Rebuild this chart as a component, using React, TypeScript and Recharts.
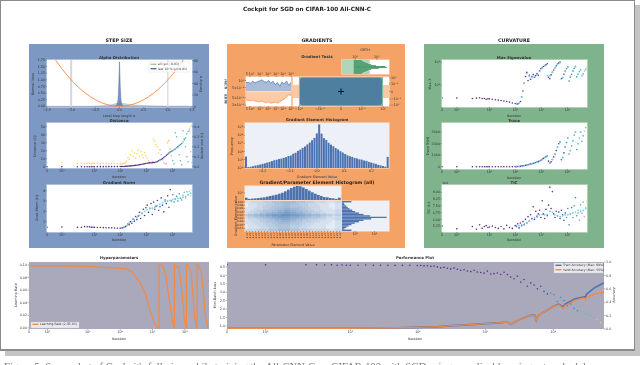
import React from 'react';
import { ComposedChart, Line, Area, Bar, Scatter, XAxis, YAxis, ReferenceLine, ReferenceArea } from 'recharts';

// iteration log shared by the scatter panels
const iterations = [0, 1, 3, 4, 5, 6, 7, 8, 9, 10,
  13, 17, 22, 28, 36, 46, 59, 76, 98,
  110, 123, 138, 155, 173, 194, 217, 243, 273, 305, 342, 383, 429, 481, 538, 603, 675, 756, 847, 949,
  1063, 1190, 1333, 1493, 1672, 1873, 2098, 2349, 2631, 2947, 3301, 3697, 4141, 4638, 5194, 5817, 6515, 7297, 8173, 9154,
  10252, 11482, 12860, 14403, 16132, 18068, 20236, 22664, 25384, 28430, 31842, 35663, 39942, 44735, 50103, 56115];

const distance = [0, 0, 0, 0, 0, 0, 0, 0, 0, 0,
  0.05, 0.05, 0.05, 0.1, 0.1, 0.1, 0.15, 0.15, 0.2,
  0.25, 0.3, 0.35, 0.5, 0.6, 0.7, 0.85, 1, 1.15, 1.3, 1.5, 1.7, 1.9, 2.1, 2.4, 2.7, 3, 3.3, 3.7, 4.1,
  4.4, 4.6, 4.8, 5, 5.1, 5.2, 5.3, 5.9, 6.6, 7.4, 8.3, 9.2, 10.2, 11.4, 12.8, 14.2, 15.6, 17, 18.4, 19.4,
  20, 21.2, 22.2, 23.6, 25, 26.4, 27.6, 29, 31, 33.5, 36, 41, 44, 47, 50, 52];

const updateSize = [0.04, 0.043, 0.03, 0.035, 0.03, 0.034, 0.033, 0.03, 0.036, 0.032,
  0.033, 0.03, 0.034, 0.031, 0.03, 0.032, 0.03, 0.029, 0.031,
  0.03, 0.032, 0.035, 0.04, 0.055, 0.09, 0.075, 0.12, 0.16, 0.1, 0.14, 0.085, 0.13, 0.165, 0.105, 0.15, 0.12, 0.09, 0.14, 0.11,
  0.09, 0.06, 0.045, 0.04, 0.05, 0.27, 0.25, 0.22, 0.2, 0.14, 0.17, 0.12, 0.07, 0.04, 0.03, 0.03, 0.24, 0.26, 0.18, 0.11,
  0.06, 0.03, 0.34, 0.3, 0.2, 0.12, 0.06, 0.02, 0.36, 0.28, 0.2, 0.1, 0.05, 0.36, 0.15, 0.04];

const gradNorm = [0.45, 0.48, 0.45, 0.46, 0.52, 0.5, 0.5, 0.47, 0.46, 0.45,
  0.44, 0.43, 0.42, 0.41, 0.4, 0.4, 0.38, 0.36, 0.36,
  0.37, 0.4, 0.46, 0.52, 0.6, 0.78, 0.7, 1.0, 0.85, 1.25, 1.05, 1.5, 1.2, 1.55, 1.9, 1.3, 1.8, 2.2, 1.6, 2.35,
  2.6, 1.9, 2.3, 2.75, 1.7, 2.9, 2.2, 2.5, 3.05, 2.1, 2.45, 3.3, 2.6, 1.95, 3.1, 2.75, 3.5, 2.4, 4.1, 3.0,
  3.6, 2.9, 3.2, 3.45, 3.0, 3.7, 3.25, 3.1, 3.55, 3.85, 3.3, 3.9, 3.6, 3.95, 3.5, 4.05];

const maxEig = [0.27, 0.27, 0.26, 0.27, 0.28, 0.26, 0.26, 0.24, 0.25, 0.25,
  0.24, 0.23, 0.22, 0.21, 0.2, 0.19, 0.18, 0.165, 0.155,
  0.155, 0.15, 0.16, 0.19, 0.3, 0.55, 1.2, 2.4, 3.6, 1.6, 2.7, 1.8, 2.4, 2.9, 2.2, 2.6, 3.2, 2.7, 4.2, 5.2,
  5.8, 6.5, 7.2, 7.8, 8.6, 2.2, 1.9, 2.8, 3.6, 4.6, 5.8, 7, 8.6, 9.4, 10.2, 1.9, 2.1, 3, 4, 5.2,
  6.4, 1.5, 2.2, 3, 4.2, 5.4, 6.6, 2.3, 3, 3.9, 4.8, 2.6, 3.2, 4.2, 5, 6];

const trace = [0, 0, 0, 0, 0, 0, 0, 0, 0, 0,
  0, 0, 0, 0, 0, 0, 0, 0, 5,
  10, 15, 20, 30, 50, 70, 95, 120, 150, 175, 200, 230, 260, 290, 320, 360, 400, 440, 500, 560,
  640, 720, 800, 860, 920, 480, 330, 420, 620, 850, 1100, 1400, 1700, 2000, 2150, 600, 800, 1200, 1700, 2100,
  2500, 1100, 1400, 1800, 2250, 2750, 3000, 1500, 2000, 2500, 3000, 2200, 2700, 3100, 3400, 3650];

const tic = [5.25, 4.95, 5.2, 4.9, 5.4, 5.0, 5.2, 5.3, 5.1, 5.15,
  5.25, 5.1, 5.0, 5.2, 4.95, 5.35, 5.1, 5.0, 5.3,
  5.2, 5.5, 5.05, 5.6, 5.3, 5.75, 5.4, 6.0, 5.6, 6.3, 5.8, 6.5, 6.1, 7.4, 6.0, 6.9, 6.3, 6.6, 7.0, 6.2,
  8.06, 6.6, 6.1, 7.1, 6.4, 7.57, 9.56, 7.2, 9.07, 6.6, 6.2, 6.9, 6.4, 6.8, 6.1, 7.0, 6.5, 5.9, 6.7, 6.2,
  7.2, 5.4, 6.6, 7.3, 6.2, 7.5, 8.4, 6.4, 7.0, 5.9, 7.6, 6.7, 7.9, 6.3, 7.3, 8.0];

const loss = [4.62, 4.62, 4.62, 4.62, 4.61, 4.62, 4.6, 4.61, 4.6, 4.6,
  4.6, 4.61, 4.6, 4.6, 4.6, 4.59, 4.59, 4.6, 4.58,
  4.58, 4.56, 4.57, 4.53, 4.55, 4.5, 4.44, 4.47, 4.42, 4.38, 4.44, 4.36, 4.3, 4.33, 4.26, 4.22, 4.3, 4.2, 4.17, 4.13,
  4.25, 4.08, 4.1, 4.14, 4.05, 4.18, 4.05, 3.9, 3.8, 3.95, 3.6, 3.75, 3.35, 3.55, 3.42, 3.2, 3.35, 3.05, 2.9, 2.95,
  2.85, 2.45, 2.7, 2.5, 2.2, 2.3, 2.05, 1.9, 1.85, 1.75, 1.7, 1.6, 1.5, 1.4, 1.2, 1.05];

// smoothed curves, logged at every second iteration from 110 on
const trendIters = [110, 138, 173, 217, 273, 342, 429, 538, 675, 847, 1063, 1333, 1672, 2098, 2631, 3301, 4141, 5194, 6515, 8173,
  10252, 12860, 16132, 20236, 25384, 31842, 39942, 50103];
const gradNormTrend = [0.37, 0.48, 0.62, 0.85, 1.0, 1.2, 1.4, 1.6, 1.8, 2.0, 2.15, 2.25, 2.3, 2.4, 2.55, 2.7, 2.85, 2.95, 3.0, 3.05, 3.15, 3.2, 3.25, 3.3, 3.35, 3.45, 3.6, 3.75];
const maxEigTrend = [0.155, 0.16, 0.3, 1.2, 3.2, 2.4, 2.2, 2.4, 2.9, 4, 5.6, 7, 2.6, 2.6, 3.7, 5.8, 8.2, 9.6, 2.2, 4, 6.2, 2.4, 4.2, 6.4, 3, 4.6, 3.1, 4.9];
const traceTrend = [10, 20, 50, 95, 150, 200, 260, 320, 400, 500, 640, 800, 920, 330, 620, 1100, 1700, 2150, 800, 1700, 2500, 1400, 2250, 3000, 2000, 3000, 2700, 3400];
const ticTrend = [5.3, 5.3, 5.4, 5.5, 5.6, 5.8, 6.0, 6.2, 6.4, 6.5, 6.55, 6.5, 6.55, 6.9, 6.8, 6.5, 6.4, 6.3, 6.4, 6.5, 6.5, 6.6, 6.7, 6.8, 6.7, 6.9, 7.0, 7.2];

const perfIters = [0, 1, 10, 50, 100, 200, 330, 600, 1000, 1700, 2090, 2350, 3160, 4500, 5300, 5600, 5800, 6200, 10000, 12000, 14000, 15000, 21000, 26000, 28800, 29800, 31000, 40000, 56000];
const validAcc = [0.01, 0.01, 0.012, 0.018, 0.024, 0.035, 0.05, 0.065, 0.08, 0.095, 0.105, 0.075, 0.14, 0.2, 0.21, 0.13, 0.18, 0.21, 0.335, 0.36, 0.31, 0.35, 0.43, 0.455, 0.46, 0.43, 0.47, 0.52, 0.55];
const trainAcc = [0.01, 0.01, 0.012, 0.018, 0.024, 0.035, 0.05, 0.065, 0.08, 0.095, 0.105, 0.075, 0.14, 0.2, 0.21, 0.13, 0.18, 0.21, 0.335, 0.37, 0.33, 0.37, 0.45, 0.47, 0.48, 0.47, 0.52, 0.61, 0.69];

const lrIters = [0, 1, 10, 100, 160, 240, 380, 620, 870, 1260, 1590, 1600, 1700, 2090, 2540, 3000, 3630, 4300, 4800, 4810, 5200, 6600, 8300, 9600, 10500, 11200, 11210, 12600, 16000, 18500, 20400, 23000, 24000, 24010, 25700, 32400, 38000, 43000, 51000, 56115];
const learningRate = [0.0985, 0.0983, 0.0975, 0.0945, 0.0935, 0.088, 0.0745, 0.053, 0.0255, 0.003, 0, 0.1, 0.1, 0.099, 0.085, 0.06, 0.031, 0.006, 0, 0.1, 0.099, 0.096, 0.053, 0.015, 0.002, 0, 0.1, 0.1, 0.085, 0.04, 0.015, 0.001, 0, 0.1, 0.1, 0.09, 0.055, 0.02, 0.001, 0.001];

// alpha distribution
const alphaGrid = [-1.5, -1.33, -1.2, -1.1, -1, -0.9, -0.8, -0.7, -0.6, -0.5, -0.4, -0.3, -0.2, -0.1, -0.05, -0.03, -0.015, 0, 0.015, 0.03, 0.05, 0.1, 0.2, 0.3, 0.4, 0.5, 0.6, 0.7, 0.8, 0.9, 1, 1.1, 1.2, 1.33, 1.5];
const normLoss = [null, 1.77, 1.44, 1.21, 1, 0.81, 0.64, 0.49, 0.36, 0.25, 0.16, 0.09, 0.04, 0.01, 0.0025, 0.001, 0, 0, 0, 0.001, 0.0025, 0.01, 0.04, 0.09, 0.16, 0.25, 0.36, 0.49, 0.64, 0.81, 1, 1.21, 1.44, 1.77, null];
const densityAll = [0, 0, 0, 0, 0, 0, 0, 0, 0, 0.5, 1, 1.5, 2.5, 4.5, 5, 5.5, 5.8, 6, 5.8, 5.5, 5.2, 5, 3.5, 2.5, 2, 1.5, 1.2, 1, 0.8, 0.6, 0.5, 0.4, 0.3, 0.2, 0];
const densityLast = [0, 0, 0, 0, 0, 0, 0, 0, 0, 0, 0, 0, 0, 0.5, 3, 12, 35, 78, 35, 12, 3, 0.5, 0, 0, 0, 0, 0, 0, 0, 0, 0, 0, 0, 0, 0];

// gradient element histogram, 61 bins
const gradHist = [24, 1.2, 1.3, 1.5, 1.8, 2, 2.4, 2.9, 3.4, 4.2, 5.1, 6.4, 8.1, 9.3, 11.2, 13, 16, 19.5, 27, 31, 52, 68, 115, 165, 270, 410, 720, 1250, 2400, 4600, 16500,
  210000, 15500, 4400, 2550, 1150, 680, 430, 255, 175, 105, 72, 48, 33, 25, 21, 15.5, 13.5, 10.5, 9.8, 7.6, 6.8, 5, 4.3, 3.4, 2.9, 2.2, 1.9, 1.6, 1.3, 21];

// joint histogram
const paramHist = [10, 3, 4, 5, 7, 10, 14, 28, 55, 95, 190, 500, 1300, 5200, 28000, 145000, 500000, 1000000, 760000, 250000, 55000, 10500, 2000, 500, 145, 55, 18, 14, 7, 5, 3, 10];
const elemHist = [41, 7, 8, 12, 17, 26, 50, 100, 245, 740, 3600, 186000, 4600, 740, 245, 90, 41, 20, 12, 7.5, 41];
const jointRows = [
  '11222233344455555444333222211122',
  '01112223334445544433322211110011',
  '01112233344455544443322221110011',
  '11122233445556655544332221111011',
  '11223344455667766554433222111122',
  '12233445566778877665443332211122',
  '34455667788899988877665554433233',
  '23344556677888877766554443322122',
  '12223344556677766554433322211122',
  '11222334445566655443332221111011',
  '11122233344555544433222111110011',
  '01112223334444433332221111100011',
  '01111222333444433322211111100011',
  '22223333444555544433332222221122',
];
const paramLabels = ['-0.31', '-0.29', '-0.27', '-0.25', '-0.23', '-0.21', '-0.19', '-0.17', '-0.15', '-0.13', '-0.11', '-0.09', '-0.07', '-0.05', '-0.03', '-0.01',
  '0.01', '0.03', '0.05', '0.07', '0.09', '0.11', '0.13', '0.15', '0.17', '0.19', '0.21', '0.23', '0.25', '0.27', '0.29', '0.31'];

// gradient tests
const orthoHist = [42, 45, 50, 55, 62, 72, 92, 95, 78, 62, 55, 50, 45, 42];
const orthoLead = 25;
const normTrack = [0.62, 0.6, 0.55, 0.7, 0.58, 0.66, 0.72, 0.8, 0.68, 0.62, 0.75, 0.55, 0.7, 0.45, 0.6, 0.35, 0.65, 0.5, 0.72, 0.4, 0.62];
const innerTrack = [0.45, 0.4, 0.38, 0.42, 0.35, 0.32, 0.3, 0.36, 0.28, 0.25, 0.3, 0.2, 0.24, 0.28, 0.2, 0.3, 0.4, 0.5, 0.65, 0.8, 0.75];

const iterTicks = [0, 1, 10, 100, 1000, 10000];
const iterLabels = ['0', '10⁰', '10¹', '10²', '10³', '10⁴'];
const testLabels = ['5·10⁰', '10¹', '10²', '10³', '10⁴', '10⁵'];

const PURPLE = '#5B2C8A';
const CYAN = '#6FD0E8';
const BLUE = '#4C72B0';
const ORANGE = '#F08A45';
const GRAY_BG = '#A9A9BB';
const FONT = '"DejaVu Sans"';
// an axis of size 0 is not drawn at all, so give it next to nothing
const THIN = 0.01;

// axis position of an iteration: linear below 1, then one unit per decade (first decade stretched)
function pos(iter: number) {
  if (iter <= 1) return 0.57 * iter;
  if (iter <= 10) return 0.57 + 1.25 * Math.log10(iter);
  return 0.82 + Math.log10(iter);
}
const X_MAX = pos(56115);

const rows = iterations.map((iter, i) => {
  const t = trendIters.indexOf(iter);
  return {
    x: pos(iter), iter,
    distance: distance[i], updateSize: updateSize[i], gradNorm: gradNorm[i],
    maxEig: maxEig[i], trace: trace[i], tic: tic[i], loss: loss[i],
    gradNormTrend: t >= 0 ? gradNormTrend[t] : null,
    maxEigTrend: t >= 0 ? maxEigTrend[t] : null,
    traceTrend: t >= 0 ? traceTrend[t] : null,
    ticTrend: t >= 0 ? ticTrend[t] : null,
  };
});
const perfRows = [
  ...rows.map((r) => ({ x: r.x, iter: r.iter, loss: r.loss })),
  ...perfIters.map((iter, i) => ({ x: pos(iter), iter, validAcc: validAcc[i], trainAcc: trainAcc[i] })),
].sort((a, b) => a.x - b.x);
const lrRows = lrIters.map((iter, i) => ({ x: pos(iter), lr: learningRate[i] }));
const alphaRows = alphaGrid.map((x, i) => ({ x, normLoss: normLoss[i], all: densityAll[i], last: densityLast[i] }));
const gradHistRows = gradHist.map((count, i) => ({ x: (i - 30) * 0.00866, count }));
const paramRows = paramHist.map((count, i) => ({ x: i + 0.5, count }));
const elemRows = elemHist.map((count, i) => ({ row: i, count }));
const jointCells = jointRows.flatMap((row, r) =>
  row.split('').map((d, c) => ({ x: c + 0.5, y: 13.5 - r, level: Number(d) })));
const orthoRows = orthoHist.map((v, i) => ({ row: i, lead: orthoLead, rest: v - orthoLead }));
const normRows = normTrack.map((v, i) => ({ x: i * 2.25, v }));
const innerRows = innerTrack.map((v, i) => ({ x: i * 2.25, v }));

function iterColor(iter: number) {
  if (iter < 2500) return PURPLE;
  if (iter < 9000) return '#3B4C9B';
  if (iter < 25000) return '#3E8FB0';
  if (iter < 40000) return '#5DC4A8';
  if (iter < 50000) return '#E3A6E0';
  return '#E8D84A';
}
function updateColor(iter: number) {
  if (iter < 3000) return '#F5D94A';
  if (iter < 6000) return '#EBA3E0';
  if (iter < 10000) return '#F4B54A';
  if (iter < 44000) return '#62BF96';
  return '#EBA3E0';
}

const tickStyle = { fontSize: 3.3, fill: '#333', fontFamily: FONT };
const axisBase = {
  axisLine: false, tick: tickStyle, tickSize: 1.5, tickMargin: 0.5, interval: 0 as const,
  tickLine: { stroke: '#444', strokeWidth: 0.4 }, allowDataOverflow: true,
};

const dots = (colorOf: (iter: number) => string, r = 0.8) => (p: any) => {
  if (p.cy == null || p.value == null || (Array.isArray(p.value) && p.value[1] == null)) return <g key={p.index} />;
  return <circle key={p.index} cx={p.cx} cy={p.cy} r={r} fill={colorOf(p.payload.iter)} />;
};
const cyanDots = (p: any) => {
  if (p.cy == null || p.value == null || (Array.isArray(p.value) && p.value[1] == null)) return <g key={p.index} />;
  return <circle key={p.index} cx={p.cx} cy={p.cy} r={0.9} fill={CYAN} />;
};

function iterAxis() {
  return (
    <XAxis {...axisBase} type="number" dataKey="x" domain={[0, X_MAX]} height={THIN}
      ticks={iterTicks.map(pos)} tickFormatter={(_: number, i: number) => iterLabels[i]} />
  );
}

const PAD = { left: 30, right: 30, top: 12, bottom: 14 };

function Plot({ box, data, bg = '#fff', layout, children }: any) {
  const [x0, y0, x1, y1] = box;
  return (
    <>
      <div style={{ position: 'absolute', left: x0, top: y0, width: x1 - x0, height: y1 - y0, background: bg, boxShadow: '0 0 0 0.7px rgba(255,255,255,0.55)' }} />
      <div style={{ position: 'absolute', left: x0 - PAD.left, top: y0 - PAD.top }}>
        <ComposedChart width={x1 - x0 + PAD.left + PAD.right} height={y1 - y0 + PAD.top + PAD.bottom} margin={PAD} data={data} layout={layout}>
          {children}
        </ComposedChart>
      </div>
    </>
  );
}

function T({ x, y, size = 3.4, bold, rot, anchor = 'middle', fill = '#333', children }: any) {
  return (
    <text x={x} y={y} fontSize={size} fontWeight={bold ? 700 : 400} fill={fill} fontFamily={FONT} textAnchor={anchor}
      transform={rot ? `rotate(${rot} ${x} ${y})` : undefined}>
      {children}
    </text>
  );
}

function LegendBox({ x, y, w, h, items }: any) {
  return (
    <g>
      <rect x={x} y={y} width={w} height={h} fill="#fff" fillOpacity={0.75} stroke="#ccc" strokeWidth={0.3} />
      {items.map((it: any, i: number) => (
        <g key={it.label}>
          <rect x={x + 1.5} y={y + 1.6 + i * 4.4} width={6} height={1.4} fill={it.color} />
          <T x={x + 9} y={y + 3.4 + i * 4.4} size={3.1} anchor="start">{it.label}</T>
        </g>
      ))}
    </g>
  );
}

function scatterAxes(domain: number[], ticks: number[], format?: any, scale?: any) {
  return <YAxis {...axisBase} width={THIN} type="number" domain={domain} ticks={ticks} tickFormatter={format} scale={scale} />;
}

function ScatterPanel({ box, dataKey, trendKey, domain, ticks, format, scale }: any) {
  return (
    <Plot box={box} data={rows}>
      {iterAxis()}
      {scatterAxes(domain, ticks, format, scale)}
      <Line dataKey={dataKey} stroke="none" dot={dots(iterColor)} isAnimationActive={false} />
      <Line dataKey={trendKey} stroke="none" dot={cyanDots} connectNulls isAnimationActive={false} />
    </Plot>
  );
}

export default function App() {
  return (
    <div style={{ position: 'fixed', left: 0, top: 0, width: 640, height: 365, background: '#fff', overflow: 'hidden', fontFamily: FONT, filter: 'blur(0.35px)' }}>
      {/* page frame */}
      <div style={{ position: 'absolute', left: 635, top: 5, width: 5, height: 351, background: '#C4C4C4' }} />
      <div style={{ position: 'absolute', left: 5, top: 351, width: 635, height: 5, background: '#C4C4C4' }} />
      <div style={{ position: 'absolute', left: 0, top: 0, width: 633, height: 348, border: '1px solid #8A8A8A', borderBottomWidth: 2 }} />

      {/* instrument groups */}
      <div style={{ position: 'absolute', left: 29, top: 44, width: 180, height: 204, background: '#7C98C3' }} />
      <div style={{ position: 'absolute', left: 227, top: 44, width: 178, height: 204, background: '#F5A266' }} />
      <div style={{ position: 'absolute', left: 424, top: 44, width: 180, height: 204, background: '#7FB38C' }} />

      {/* step size */}
      <Plot box={[47, 60, 192, 107]} data={alphaRows}>
        <XAxis {...axisBase} type="number" dataKey="x" domain={[-1.5, 1.5]} height={THIN} ticks={[-1.5, -1, -0.5, 0, 0.5, 1, 1.5]}
          tickFormatter={(v: number) => v.toFixed(1).replace('-', '−')} />
        <YAxis {...axisBase} yAxisId="loss" width={THIN} type="number" domain={[-0.025, 1.75]} ticks={[0, 0.25, 0.5, 0.75, 1, 1.25, 1.5, 1.75]} tickFormatter={(v: number) => v.toFixed(2)} />
        <YAxis {...axisBase} yAxisId="density" orientation="right" width={THIN} type="number" domain={[-1, 81]} ticks={[0, 20, 40, 60, 80]} />
        <ReferenceLine yAxisId="loss" x={-1} stroke="#D5D5E0" strokeWidth={2} />
        <ReferenceLine yAxisId="loss" x={1} stroke="#D5D5E0" strokeWidth={1.2} />
        <Area yAxisId="density" dataKey="all" stroke="#AAAAAA" fill="#BBBBBB" fillOpacity={0.7} strokeWidth={0.4} isAnimationActive={false} />
        <Area yAxisId="density" dataKey="last" stroke={BLUE} fill={BLUE} fillOpacity={0.75} strokeWidth={0.5} isAnimationActive={false} />
        <Line yAxisId="loss" dataKey="normLoss" stroke={ORANGE} strokeWidth={0.9} dot={false} type="monotone" isAnimationActive={false} />
      </Plot>

      <Plot box={[47, 123, 192, 168]} data={rows}>
        {iterAxis()}
        <YAxis {...axisBase} yAxisId="dist" width={THIN} type="number" domain={[-1.6, 54.6]} ticks={[0, 10, 20, 30, 40, 50]} />
        <YAxis {...axisBase} yAxisId="upd" orientation="right" width={THIN} type="number" domain={[-0.013, 0.437]} ticks={[0, 0.1, 0.2, 0.3, 0.4]} tickFormatter={(v: number) => v.toFixed(1)} />
        <Line yAxisId="upd" dataKey="updateSize" stroke="none" dot={dots(updateColor)} isAnimationActive={false} />
        <Line yAxisId="dist" dataKey="distance" stroke="none" dot={dots(iterColor)} isAnimationActive={false} />
      </Plot>

      <ScatterPanel box={[47, 185, 192, 232]} dataKey="gradNorm" trendKey="gradNormTrend" domain={[0, 4.55]} ticks={[1, 2, 3, 4]} />

      {/* gradient tests */}
      <Plot box={[342, 60, 389, 74]} data={orthoRows} layout="vertical">
        <XAxis {...axisBase} orientation="top" type="number" domain={[0, 100]} height={THIN} ticks={[28, 74]} tickFormatter={(_: number, i: number) => ['10⁰', '10¹'][i]} />
        <YAxis type="category" dataKey="row" hide width={THIN} />
        <ReferenceArea x1={0} x2={59} fill="#AFD5BC" fillOpacity={1} />
        <Bar dataKey="lead" stackId="ortho" fill="#AFD5BC" barSize={1} isAnimationActive={false} />
        <Bar dataKey="rest" stackId="ortho" fill="#4E9E6E" barSize={1} isAnimationActive={false} />
      </Plot>

      <Plot box={[246, 77, 291, 91]} data={normRows}>
        <XAxis {...axisBase} orientation="top" type="number" dataKey="x" domain={[0, 45]} height={THIN} ticks={[4, 14, 22, 30, 37, 45]}
          tickFormatter={(_: number, i: number) => testLabels[i]} />
        <YAxis {...axisBase} width={THIN} type="number" domain={[0, 1]} ticks={[0.25, 0.75]} tickFormatter={(_: number, i: number) => ['5×10⁻¹', '10⁰'][i]} />
        <Area dataKey="v" stroke={BLUE} strokeWidth={0.7} fill="#A8BCD9" fillOpacity={1} isAnimationActive={false} />
      </Plot>
      <Plot box={[246, 92, 291, 106]} data={innerRows}>
        <XAxis {...axisBase} type="number" dataKey="x" domain={[0, 45]} height={THIN} ticks={[4, 14, 22, 30, 37, 45]}
          tickFormatter={(_: number, i: number) => testLabels[i]} />
        <YAxis {...axisBase} width={THIN} type="number" domain={[0, 1]} ticks={[0.05, 0.6]} tickFormatter={(_: number, i: number) => ['2×10⁻¹', '5×10⁻¹'][i]} />
        <Area dataKey="v" baseValue={1} stroke={ORANGE} strokeWidth={0.7} fill="#FBCBA8" fillOpacity={1} isAnimationActive={false} />
      </Plot>

      <Plot box={[293, 77, 389, 106]} data={[{ x: 0, y: 0 }]}>
        <XAxis {...axisBase} type="number" dataKey="x" domain={[-2.28, 2.28]} height={THIN} ticks={[-2, -1, 0, 1, 2]}
          tickFormatter={(_: number, i: number) => ['−10⁰', '−10⁻¹', '0', '10⁻¹', '10⁰'][i]} />
        <YAxis {...axisBase} orientation="right" width={THIN} type="number" domain={[-1.9, 1.9]} ticks={[-1.8, -1, 0, 1, 1.8]}
          tickFormatter={(_: number, i: number) => ['−10⁰', '−10⁻¹', '0', '10⁻¹', '10⁰'][i]} />
        <ReferenceArea x1={-2.28} x2={2.28} y1={-0.85} y2={0.85} fill="#F9C9A6" fillOpacity={1} />
        <ReferenceArea x1={-2} x2={2} y1={-1.9} y2={1.9} fill="#7FBF9A" fillOpacity={1} />
        <ReferenceArea x1={-1.95} x2={1.95} y1={-1.8} y2={1.8} fill="#4F7F9F" fillOpacity={1} radius={3} />
        <Line dataKey="y" stroke="none" isAnimationActive={false}
          dot={(p: any) => (
            <path key="mean" d={`M${p.cx - 3} ${p.cy}H${p.cx + 3}M${p.cx} ${p.cy - 3}V${p.cy + 3}`} stroke="#111" strokeWidth={1} />
          )} />
      </Plot>

      {/* gradient element histogram */}
      <Plot box={[245, 123, 389, 168]} data={gradHistRows} bg="#EEF0F7">
        <XAxis {...axisBase} type="number" dataKey="x" domain={[-0.264, 0.264]} height={THIN} ticks={[-0.2, -0.1, 0, 0.1, 0.2]}
          tickFormatter={(v: number) => v.toFixed(1).replace('-', '−')} />
        <YAxis {...axisBase} width={THIN} type="number" scale="log" domain={[0.9, 316000]} ticks={[1, 10, 100, 1000, 10000, 100000]}
          tickFormatter={(_: number, i: number) => ['10⁰', '10¹', '10²', '10³', '10⁴', '10⁵'][i]} />
        <Bar dataKey="count" fill={BLUE} barSize={2} isAnimationActive={false} />
      </Plot>

      {/* joint histogram */}
      <Plot box={[245, 186, 341, 200]} data={paramRows} bg="#EEF0F7">
        <XAxis type="number" dataKey="x" domain={[0, 32]} hide height={THIN} />
        <YAxis {...axisBase} width={THIN} type="number" scale="log" domain={[1, 1000000]} ticks={[1000]} tickFormatter={() => '10³'} />
        <Bar dataKey="count" fill={BLUE} barSize={3} isAnimationActive={false} />
      </Plot>
      <Plot box={[245, 201, 341, 231]} bg="#EEF2F8">
        <XAxis {...axisBase} type="number" dataKey="x" domain={[0, 32]} height={THIN} ticks={paramLabels.map((_, i) => i + 0.5)}
          tick={{ ...tickStyle, fontSize: 2.4 }} angle={-90} textAnchor="end" tickFormatter={(_: number, i: number) => paramLabels[i]} />
        <YAxis {...axisBase} dataKey="y" width={THIN} type="number" domain={[0, 14]} ticks={[1.2, 3, 4.5, 6, 7.5, 9, 10.5, 12, 13.5]}
          tick={{ ...tickStyle, fontSize: 2.8 }} tickFormatter={(_: number, i: number) => ['-0.07', '-0.05', '-0.02', '0.00', '0.02', '0.04', '0.06', '0.08', '0.100'][i]} />
        <Scatter data={jointCells} isAnimationActive={false}
          shape={(p: any) => (
            <rect x={p.cx - 1.55} y={p.cy - 1.1} width={3.1} height={2.2} fill="#2F68A8" fillOpacity={0.04 + p.payload.level * 0.07} />
          )} />
      </Plot>
      <Plot box={[342, 201, 389, 231]} data={elemRows} layout="vertical" bg="#EEF0F7">
        <XAxis {...axisBase} type="number" scale="log" domain={[4.3, 324000]} height={THIN} ticks={[100, 10000]} tickFormatter={(_: number, i: number) => ['10²', '10⁴'][i]} />
        <YAxis type="category" dataKey="row" hide width={THIN} />
        <Bar dataKey="count" fill={BLUE} barSize={1.4} isAnimationActive={false} />
      </Plot>

      {/* curvature */}
      <ScatterPanel box={[442, 60, 587, 107]} dataKey="maxEig" trendKey="maxEigTrend" scale="log" domain={[0.11, 12.6]} ticks={[1, 10]}
        format={(_: number, i: number) => ['10⁰', '10¹'][i]} />
      <ScatterPanel box={[442, 123, 587, 169]} dataKey="trace" trendKey="traceTrend" domain={[-200, 3800]} ticks={[0, 1000, 2000, 3000]} />
      <ScatterPanel box={[442, 185, 587, 232]} dataKey="tic" trendKey="ticTrend" domain={[4.6, 9.8]} ticks={[5.25, 6, 6.75, 7.5, 8.25, 9]} format={(v: number) => v.toFixed(2)} />

      {/* hyperparameters and performance */}
      <Plot box={[29, 262, 209, 329]} data={lrRows} bg={GRAY_BG}>
        {iterAxis()}
        <YAxis {...axisBase} width={THIN} type="number" domain={[-0.0018, 0.1045]} ticks={[0, 0.02, 0.04, 0.06, 0.08, 0.1]} tickFormatter={(v: number) => v.toFixed(2)} />
        <Line dataKey="lr" stroke={ORANGE} strokeWidth={1.2} dot={false} isAnimationActive={false} />
      </Plot>
      <Plot box={[227, 262, 604, 329]} data={perfRows} bg={GRAY_BG}>
        {iterAxis()}
        <YAxis {...axisBase} yAxisId="loss" width={THIN} type="number" domain={[0.82, 4.79]} ticks={[1, 1.5, 2, 2.5, 3, 3.5, 4, 4.5]} tickFormatter={(v: number) => v.toFixed(1)} />
        <YAxis {...axisBase} yAxisId="acc" orientation="right" width={THIN} type="number" domain={[0, 1]} ticks={[0, 0.2, 0.4, 0.6, 0.8, 1]} tickFormatter={(v: number) => v.toFixed(1)} />
        <Line yAxisId="loss" dataKey="loss" stroke="none" dot={dots(iterColor)} isAnimationActive={false} />
        <Line yAxisId="acc" dataKey="trainAcc" stroke={BLUE} strokeWidth={1.6} dot={false} connectNulls isAnimationActive={false} />
        <Line yAxisId="acc" dataKey="validAcc" stroke={ORANGE} strokeWidth={1.4} dot={false} connectNulls isAnimationActive={false} />
      </Plot>

      {/* all titles and labels */}
      <svg width={640} height={365} style={{ position: 'absolute', left: 0, top: 0, pointerEvents: 'none' }}>
        <T x={307} y={11} size={5.7} bold fill="#222">Cockpit for SGD on CIFAR-100 All-CNN-C</T>
        <T x={119} y={41.5} size={4.8} bold fill="#222">STEP SIZE</T>
        <T x={317} y={41.5} size={4.8} bold fill="#222">GRADIENTS</T>
        <T x={514} y={41.5} size={4.8} bold fill="#222">CURVATURE</T>

        <T x={119} y={58.5} size={3.9} bold>Alpha Distribution</T>
        <T x={119} y={116.5}>Local step length α</T>
        <T x={34} y={84} rot={-90}>Normal. Loss</T>
        <T x={202} y={84} rot={-90}>Density α</T>
        <LegendBox x={149} y={62} w={41} h={10} items={[{ color: '#BBBBBB', label: 'all (μ=−0.01)' }, { color: BLUE, label: 'last 10 % (μ=0.01)' }]} />

        <T x={119} y={121.5} size={3.9} bold>Distance</T>
        <T x={119} y={178}>Iteration</T>
        <T x={36} y={146} rot={-90}>Distance (ℓ₂)</T>
        <T x={203} y={146} rot={-90}>Update size (ℓ₂)</T>

        <T x={119} y={183.5} size={3.9} bold>Gradient Norm</T>
        <T x={119} y={241}>Iteration</T>
        <T x={38} y={208} rot={-90}>Grad. Norm (ℓ₂)</T>

        <T x={317} y={58} size={3.9} bold>Gradient Tests</T>
        <T x={365} y={51}>ORTH</T>
        <T x={227} y={84} rot={-90}>NORM</T>
        <T x={227} y={99} rot={-90}>INNER</T>

        <T x={317} y={120.5} size={3.9} bold>Gradient Element Histogram</T>
        <T x={317} y={178}>Gradient Element Value</T>
        <T x={233} y={146} rot={-90}>Frequency</T>

        <T x={317} y={183.5} size={4.6} bold fill="#222">Gradient/Parameter Element Histogram (all)</T>
        <T x={293} y={246}>Parameter Element Value</T>
        <T x={237} y={216} rot={-90}>Gradient Element Value</T>

        <T x={514} y={58.5} size={3.9} bold>Max Eigenvalue</T>
        <T x={514} y={116.5}>Iteration</T>
        <T x={431} y={84} rot={-90}>Max. λ</T>
        <T x={514} y={121.5} size={3.9} bold>Trace</T>
        <T x={514} y={179}>Iteration</T>
        <T x={429} y={146} rot={-90}>Trace Tr(H)</T>
        <T x={514} y={183.5} size={3.9} bold>TIC</T>
        <T x={514} y={241}>Iteration</T>
        <T x={430} y={208} rot={-90}>TIC (ℓ₂)</T>
        <T x={445} y={184} size={3}>1e4</T>

        <T x={119} y={259} size={3.9} bold>Hyperparameters</T>
        <T x={119} y={340}>Iteration</T>
        <T x={17} y={295} rot={-90}>Learning Rate</T>
        <LegendBox x={31} y={322} w={48} h={6} items={[{ color: ORANGE, label: 'Learning Rate (2.3E-03)' }]} />

        <T x={415} y={259} size={3.9} bold>Performance Plot</T>
        <T x={415} y={340}>Iteration</T>
        <T x={216} y={295} rot={-90}>Mini-Batch Loss</T>
        <T x={615} y={295} rot={-90}>Accuracy</T>
        <LegendBox x={554} y={263} w={49} h={10} items={[{ color: BLUE, label: 'Train Accuracy (Max: 69%)' }, { color: ORANGE, label: 'Valid Accuracy (Max: 55%)' }]} />

        <text x={4} y={369.5} fontSize={10.6} fontFamily='"Liberation Serif"' fill="#777">
          Figure 5: Screenshot of Cockpit's full view while training the All-CNN-C on CIFAR-100 with SGD using a cyclical learning rate schedule.
        </text>
      </svg>
    </div>
  );
}
